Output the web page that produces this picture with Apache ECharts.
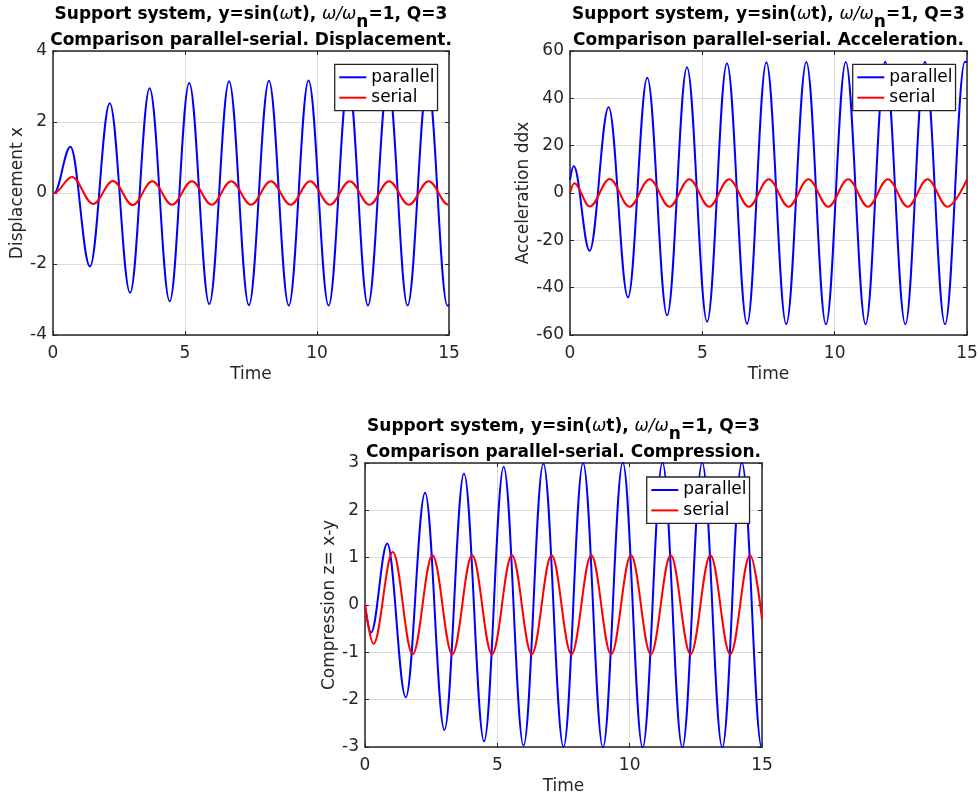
<!DOCTYPE html>
<html>
<head>
<meta charset="utf-8">
<script src="https://cdn.jsdelivr.net/npm/echarts@6/dist/echarts.min.js"></script>
<style>
html,body{margin:0;padding:0;background:#fff;}
#c{width:980px;height:796px;}
</style>
</head>
<body>
<div id="c"></div>
<script>
// ---- Data: start value, every peak and trough, end value ----
// (displacement starts at rest: still 0 at t=0.04, so the curve leaves the origin flat)
const tDispPar = [0, 0.04, 0.66, 1.40, 2.15, 2.92, 3.66, 4.42, 5.16, 5.92, 6.67, 7.42, 8.18, 8.93, 9.68, 10.44, 11.19, 11.93, 12.69, 13.43, 14.19, 14.94, 15];
const vDispPar = [0, 0, 1.30, -2.07, 2.53, -2.81, 2.95, -3.05, 3.10, -3.13, 3.15, -3.16, 3.16, -3.17, 3.17, -3.17, 3.17, -3.17, 3.17, -3.17, 3.17, -3.17, -3.15];

const tDispSer = [0, 0.04, 0.72, 1.52, 2.27, 3.02, 3.76, 4.51, 5.26, 6.01, 6.75, 7.50, 8.25, 9.00, 9.74, 10.49, 11.24, 11.99, 12.73, 13.48, 14.23, 14.98, 15];
const vDispSer = [0, 0, 0.45, -0.31, 0.34, -0.34, 0.33, -0.33, 0.33, -0.33, 0.33, -0.33, 0.33, -0.33, 0.33, -0.33, 0.33, -0.33, 0.33, -0.33, 0.33, -0.33, -0.33];

const tAccPar = [0, 0.14, 0.74, 1.46, 2.19, 2.92, 3.67, 4.42, 5.18, 5.93, 6.69, 7.42, 8.17, 8.93, 9.67, 10.42, 11.17, 11.91, 12.67, 13.41, 14.17, 14.92, 15];
const vAccPar = [5.5, 11.4, -24.4, 36.2, -44.1, 48.7, -51.7, 53.1, -54.4, 54.8, -55.3, 55.2, -55.4, 55.3, -55.5, 55.4, -55.5, 55.5, -55.5, 55.5, -55.5, 55.5, 55.2];

const tAccSer = [0, 0.16, 0.75, 1.50, 2.25, 3.01, 3.76, 4.51, 5.26, 6.01, 6.76, 7.51, 8.26, 9.01, 9.76, 10.51, 11.26, 12.01, 12.76, 13.51, 14.26, 15];
const vAccSer = [0, 4.1, -5.7, 5.9, -5.8, 5.8, -5.8, 5.8, -5.8, 5.8, -5.8, 5.8, -5.8, 5.8, -5.8, 5.8, -5.8, 5.8, -5.8, 5.8, -5.8, 5.7];

const tCompPar = [0, 0.23, 0.84, 1.54, 2.27, 3.00, 3.74, 4.50, 5.24, 5.99, 6.74, 7.50, 8.24, 8.99, 9.74, 10.49, 11.24, 11.99, 12.74, 13.50, 14.24, 14.99, 15];
const vCompPar = [0, -0.58, 1.30, -1.95, 2.37, -2.64, 2.78, -2.88, 2.92, -2.97, 2.99, -3.0, 3.0, -3.01, 3.01, -3.01, 3.01, -3.01, 3.01, -3.01, 3.01, -3.01, -3.0];

const tCompSer = [0, 0.32, 1.05, 1.80, 2.55, 3.30, 4.05, 4.80, 5.55, 6.30, 7.05, 7.80, 8.55, 9.30, 10.05, 10.80, 11.55, 12.30, 13.05, 13.80, 14.55, 15];
const vCompSer = [0, -0.82, 1.12, -1.04, 1.05, -1.04, 1.05, -1.04, 1.05, -1.04, 1.05, -1.04, 1.05, -1.04, 1.05, -1.04, 1.05, -1.04, 1.05, -1.04, 1.05, -0.30];

const seriesNames = ['parallel', 'serial'];
const yLabels = ['Displacement x', 'Acceleration ddx', 'Compression z= x-y'];
const xLabel = 'Time';
const titleLine2 = ['Comparison parallel-serial. Displacement.', 'Comparison parallel-serial. Acceleration.', 'Comparison parallel-serial. Compression.'];
const yRanges = [[-4, 4, 2], [-60, 60, 20], [-3, 3, 1]];
const xRange = [0, 15, 5];

// ---- Layout / style ----
const FF = 'DejaVu Sans';
const AX = '#262626';
const grids = [
  {left: 53, top: 51, width: 396, height: 284},
  {left: 570, top: 51, width: 397, height: 284},
  {left: 365, top: 463, width: 397, height: 284}
];
const yNameGap = [23, 35.5, 24.5];
const legendPos = [[334.7, 64.3], [852.7, 64.3], [646.7, 477]];

function zip(t, v) { return t.map((x, i) => [x, v[i]]); }

const xAxes = [], yAxes = [];
grids.forEach((g, gi) => {
  ['bottom', 'top'].forEach(pos => {
    const main = pos === 'bottom';
    xAxes.push({
      type: 'value', gridIndex: gi, position: pos,
      min: xRange[0], max: xRange[1], interval: xRange[2],
      name: main ? xLabel : '', nameLocation: 'middle', nameGap: 31,
      nameTextStyle: {fontFamily: FF, fontSize: 17, color: AX},
      axisLine: {show: true, onZero: false, lineStyle: {color: AX, width: 1.5}},
      axisTick: {show: true, inside: true, length: 4, lineStyle: {color: AX, width: 1}},
      axisLabel: {show: main, margin: 10.5, fontFamily: FF, fontSize: 17, color: AX},
      splitLine: {show: main, lineStyle: {color: '#dcdcdc', width: 1}}
    });
  });
  const yr = yRanges[gi];
  ['left', 'right'].forEach(pos => {
    const main = pos === 'left';
    yAxes.push({
      type: 'value', gridIndex: gi, position: pos,
      min: yr[0], max: yr[1], interval: yr[2],
      name: main ? yLabels[gi] : '', nameLocation: 'middle', nameGap: yNameGap[gi],
      nameTextStyle: {fontFamily: FF, fontSize: 17, color: AX},
      axisLine: {show: true, onZero: false, lineStyle: {color: AX, width: 1.5}},
      axisTick: {show: true, inside: true, length: 4, lineStyle: {color: AX, width: 1}},
      axisLabel: {show: main, margin: 6, fontFamily: FF, fontSize: 17, color: AX},
      splitLine: {show: main, lineStyle: {color: '#dcdcdc', width: 1}}
    });
  });
});

const dataSets = [
  [zip(tDispPar, vDispPar), zip(tDispSer, vDispSer)],
  [zip(tAccPar, vAccPar), zip(tAccSer, vAccSer)],
  [zip(tCompPar, vCompPar), zip(tCompSer, vCompSer)]
];
const colors = ['#0000ff', '#ff0000'];
const series = [];
dataSets.forEach((pair, gi) => {
  pair.forEach((d, si) => {
    series.push({
      type: 'line', name: seriesNames[si], data: d,
      xAxisIndex: gi * 2, yAxisIndex: gi * 2,
      showSymbol: false, symbol: 'none',
      smooth: 0.364, smoothMonotone: 'x',
      lineStyle: {color: colors[si], width: 2},
      itemStyle: {color: colors[si]},
      z: 2 + si, animation: false, silent: true
    });
  });
});

const legends = legendPos.map(p => ({
  left: p[0], top: p[1], orient: 'vertical',
  data: seriesNames, icon: 'rect', itemWidth: 27, itemHeight: 2, itemGap: 3.4,
  padding: [4.5, 3, 4.5, 4.6],
  borderColor: AX, borderWidth: 1.3, backgroundColor: '#fff',
  textStyle: {fontFamily: FF, fontSize: 17, color: '#000'},
  selectedMode: false, z: 10
}));

// Titles (line 1 with italic omega and a bold subscript n)
const ctx = document.createElement('canvas').getContext('2d');
const FB = 'bold 17px "DejaVu Sans"';
const FI = 'italic 17px "DejaVu Sans"';
const pieces = [
  ['Support system, y=sin(', FB, 0],
  ['\u03c9', FI, 0],
  ['t), ', FB, 0],
  ['\u03c9/\u03c9', FI, 0],
  ['n', FB, 8],
  ['=1, Q=3', FB, 0]
];
function w(s, f) { ctx.font = f; return ctx.measureText(s).width; }
const graphics = [];
grids.forEach((g, gi) => {
  const cx = g.left + g.width / 2;
  const y1 = g.top - 36.5, y2 = g.top - 10;
  const total = pieces.reduce((a, p) => a + w(p[0], p[1]), 0);
  let x = cx - total / 2;
  pieces.forEach(p => {
    graphics.push({type: 'text', x: x, y: y1 + p[2], z: 20,
      style: {text: p[0], font: p[1], fill: '#000', align: 'left', verticalAlign: 'middle', textAlign: 'left', textVerticalAlign: 'middle'}});
    x += w(p[0], p[1]);
  });
  graphics.push({type: 'text', x: cx, y: y2, z: 20,
    style: {text: titleLine2[gi], font: FB, fill: '#000', align: 'center', verticalAlign: 'middle', textAlign: 'center', textVerticalAlign: 'middle'}});
});

const chart = echarts.init(document.getElementById('c'), null, {renderer: 'canvas'});
chart.setOption({
  animation: false,
  backgroundColor: '#fff',
  grid: grids.map(g => Object.assign({containLabel: false, outerBoundsMode: 'none'}, g)),
  xAxis: xAxes,
  yAxis: yAxes,
  legend: legends,
  series: series,
  graphic: graphics
});
</script>
</body>
</html>
